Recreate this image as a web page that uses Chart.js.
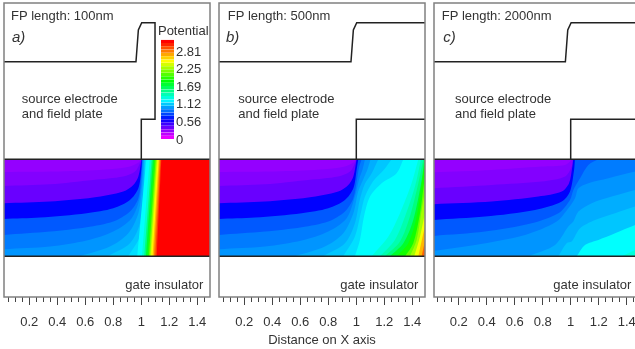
<!DOCTYPE html>
<html>
<head>
<meta charset="utf-8">
<title>Potential contours</title>
<script src="https://cdn.jsdelivr.net/npm/chart.js@4/dist/chart.umd.min.js"></script>
<style>
  html, body { margin: 0; background: #fff; overflow: hidden; width: 635px; height: 349px; }
  canvas { position: absolute; top: 0; }
</style>
</head>
<body>
<canvas id="panelA" width="214" height="349" style="left:0"></canvas>
<canvas id="panelB" width="214" height="349" style="left:215px"></canvas>
<canvas id="panelC" width="214" height="349" style="left:430px"></canvas>
<canvas id="colorKey" width="60" height="120" style="left:150px;top:30px"></canvas>
<script>
// x is distance in um, y is depth below the top of the layer
const xMajorTicks = [0.2, 0.4, 0.6, 0.8, 1, 1.2, 1.4];
const xMinorTicks = [0.05, 0.1, 0.15, 0.2, 0.25, 0.3, 0.35, 0.4, 0.45, 0.5, 0.55, 0.6, 0.65, 0.7, 0.75,
  0.8, 0.85, 0.9, 0.95, 1, 1.05, 1.1, 1.15, 1.2, 1.25, 1.3, 1.35, 1.4, 1.45];
const keyTicks = [0, 0.5625, 1.125, 1.6875, 2.25, 2.8125];
const keyLabels = ["0", "0.56", "1.12", "1.69", "2.25", "2.81"];
const keyBands = [0.05, 0.155, 0.26, 0.366, 0.47, 0.577, 0.683, 0.788, 0.894, 1.0, 1.105, 1.21, 1.316, 1.42, 1.527,
  1.633, 1.738, 1.844, 1.95, 2.055, 2.16, 2.266, 2.37, 2.477, 2.583, 2.688, 2.794, 2.9, 3.005, 3.11];

// [potential, line of equal potential]
const contoursA = [
  [0.26, [[0.015, 0], [1.5, 0]]],
  [0.30, [[0.015, 12.7], [0.467, 12], [0.776, 10], [0.919, 7.3], [0.979, 3.3], [1.0, 0]]],
  [0.364, [[0.015, 26.7], [0.348, 25], [0.657, 20.7], [0.871, 17.3], [0.955, 12.3], [0.99, 4], [1.001, 0]]],
  [0.62, [[0.015, 44], [0.348, 42.3], [0.657, 38.3], [0.871, 32.3], [0.943, 25.7], [0.979, 17.3], [1.002, 0]]],
  [0.835, [[0.015, 59.7], [0.276, 58.3], [0.61, 54], [0.8, 49], [0.919, 40.7], [0.979, 29], [1.0, 10.7], [1.005, 0]]],
  [0.92, [[0.015, 75.7], [0.348, 72.3], [0.61, 68], [0.8, 62.3], [0.919, 52.3], [0.979, 39], [1.0, 17.3], [1.008, 0]]],
  [0.98, [[0.015, 90], [0.348, 87.3], [0.61, 81.3], [0.8, 72.3], [0.931, 59], [0.99, 37.3], [1.012, 0]]],
  [1.04, [[0.562, 97], [0.776, 87.3], [0.907, 74], [0.979, 54], [1.008, 24], [1.017, 0]]],
  [1.10, [[0.762, 97], [0.919, 84], [0.99, 64], [1.014, 30.7], [1.022, 0]]],
  [1.16, [[0.907, 97], [0.99, 77.3], [1.018, 50.7], [1.028, 0]]],
  [1.24, [[0.971, 97], [1.036, 0]]],
  [1.35, [[1.005, 97], [1.06, 0]]],
  [1.55, [[1.021, 97], [1.074, 0]]],
  [1.75, [[1.033, 97], [1.083, 0]]],
  [1.95, [[1.045, 97], [1.093, 0]]],
  [2.15, [[1.055, 97], [1.102, 0]]],
  [2.35, [[1.064, 97], [1.11, 0]]],
  [2.5, [[1.071, 97], [1.117, 0]]],
  [2.65, [[1.081, 97], [1.124, 0]]],
  [2.8, [[1.09, 97], [1.131, 0]]],
  [2.95, [[1.1, 97], [1.138, 0]]],
  [3.09, [[1.11, 97], [1.143, 0]]]
];

const contoursB = [
  [0.26, [[0.015, 0], [1.5, 0]]],
  [0.30, [[0.015, 12.7], [0.467, 12], [0.776, 10], [0.919, 7.3], [0.979, 3.3], [1.0, 0]]],
  [0.364, [[0.015, 26.7], [0.348, 25], [0.657, 20.7], [0.871, 17.3], [0.955, 12.3], [0.99, 4], [1.001, 0]]],
  [0.62, [[0.015, 44], [0.348, 42.3], [0.657, 38.3], [0.871, 32.3], [0.943, 25.7], [0.979, 17.3], [1.002, 0]]],
  [0.835, [[0.015, 59.7], [0.276, 58.3], [0.61, 54], [0.8, 49], [0.919, 40.7], [0.979, 29], [1.002, 10.7], [1.014, 0]]],
  [0.92, [[0.015, 75.7], [0.348, 72.3], [0.61, 68], [0.8, 62.3], [0.919, 52.3], [0.979, 39], [1.005, 20], [1.02, 8], [1.038, 0]]],
  [0.98, [[0.015, 90], [0.348, 87.3], [0.61, 81.3], [0.8, 72.3], [0.931, 59], [0.99, 37.3], [1.02, 20], [1.045, 10], [1.062, 0]]],
  [1.04, [[0.562, 97], [0.776, 87.3], [0.907, 74], [0.979, 54], [1.014, 32], [1.05, 20], [1.08, 10], [1.102, 0]]],
  [1.10, [[0.762, 97], [0.919, 84], [0.99, 64], [1.026, 40], [1.06, 25], [1.11, 14], [1.157, 0]]],
  [1.16, [[0.907, 97], [0.99, 77.3], [1.03, 55], [1.06, 38], [1.12, 22], [1.2, 10], [1.252, 0]]],
  [1.24, [[0.99, 97], [1.026, 80.7], [1.055, 57.3], [1.098, 37.3], [1.181, 24], [1.288, 14], [1.336, 0]]],
  [1.33, [[1.11, 97], [1.229, 77.3], [1.312, 54], [1.395, 24], [1.443, 0]]],
  [1.43, [[1.169, 97], [1.276, 80.7], [1.348, 57.3], [1.419, 27.3], [1.462, 0]]],
  [1.55, [[1.205, 97], [1.312, 82.3], [1.383, 57.3], [1.443, 24], [1.479, 0]]],
  [1.75, [[1.24, 97], [1.336, 84], [1.407, 60.7], [1.467, 20.7], [1.486, 0]]],
  [1.9, [[1.288, 97], [1.371, 84], [1.431, 57.3], [1.481, 10.7], [1.5, 0]]],
  [2.1, [[1.348, 97], [1.407, 84], [1.455, 54], [1.49, 17.3], [1.5, 10]]],
  [2.25, [[1.383, 97], [1.431, 80.7], [1.471, 47.3], [1.5, 25]]],
  [2.45, [[1.414, 97], [1.455, 77.3], [1.5, 47]]],
  [2.65, [[1.443, 97], [1.479, 74], [1.5, 62]]],
  [2.85, [[1.467, 97], [1.5, 75]]]
];

const contoursC = [
  [0.26, [[0.015, 0], [1.5, 0]]],
  [0.30, [[0.015, 13], [0.436, 10.7], [0.793, 7.3], [0.96, 5.7], [1.012, 0]]],
  [0.364, [[0.015, 29], [0.436, 25.7], [0.793, 22.3], [0.96, 17.3], [1.007, 7.3], [1.015, 0]]],
  [0.62, [[0.015, 45], [0.436, 42.3], [0.769, 37.3], [0.936, 32.3], [0.988, 24], [1.012, 7.3], [1.018, 0]]],
  [0.835, [[0.015, 60.7], [0.388, 57.3], [0.745, 50.7], [0.936, 42.3], [0.995, 32.3], [1.024, 10.7], [1.03, 0]]],
  [0.92, [[0.015, 76.7], [0.388, 72.3], [0.721, 64], [0.912, 54], [0.995, 40.7], [1.019, 30.7], [1.067, 19], [1.126, 5.7], [1.198, 0]]],
  [0.98, [[0.015, 91.7], [0.317, 85.7], [0.674, 75.7], [0.9, 62.3], [0.983, 49], [1.031, 39], [1.055, 29], [1.126, 24], [1.269, 19], [1.46, 12.3], [1.5, 11]]],
  [1.04, [[0.698, 97], [0.888, 85.7], [0.983, 67.3], [1.019, 62.3], [1.055, 52.3], [1.15, 44], [1.293, 37.3], [1.46, 30.7], [1.5, 29]]],
  [1.10, [[0.912, 97], [0.971, 84], [1.007, 82.3], [1.067, 69], [1.174, 60.7], [1.317, 54], [1.46, 47.3], [1.5, 46]]],
  [1.24, [[1.043, 97], [1.102, 85.7], [1.198, 80.7], [1.317, 74], [1.46, 65.7], [1.5, 64]]],
  [1.33, [[1.364, 97], [1.46, 90.7], [1.5, 88]]]
];

// edge of the source electrode and field plate
const stepLine = [[0.015, -97.6], [0.962, -97.6], [0.979, -129.3], [1.003, -136.6]];
const outlineA = [stepLine.concat([[1.098, -136.6], [1.098, -40], [1, -40], [1, 0]])];
const outlineB = [stepLine.concat([[1.5, -136.6]]), [[1, 0], [1, -40], [1.5, -40]]];
const layerEdges = [[[0.015, 0], [1.5, 0]], [[0.015, 97], [1.5, 97]]];

const textA = [
  { text: "FP length: 100nm", x: 0.0693, y: -142.8 },
  { text: "a)", x: 0.0764, y: -121.3, italic: true },
  { text: "source electrode", x: 0.1457, y: -59.6 },
  { text: "and field plate", x: 0.1457, y: -44.8 },
  { text: "gate insulator", x: 1.443, y: 125.7, right: true },
  { text: "Potential", x: 1.119, y: -128 }
];
const textB = [
  { text: "FP length: 500nm", x: 0.0814, y: -142.8 },
  { text: "b)", x: 0.0693, y: -121.3, italic: true },
  { text: "source electrode", x: 0.157, y: -59.6 },
  { text: "and field plate", x: 0.157, y: -44.8 },
  { text: "gate insulator", x: 1.443, y: 125.7, right: true }
];
const textC = [
  { text: "FP length: 2000nm", x: 0.0786, y: -142.8 },
  { text: "c)", x: 0.09, y: -121.3, italic: true },
  { text: "source electrode", x: 0.1736, y: -59.6 },
  { text: "and field plate", x: 0.1736, y: -44.8 },
  { text: "gate insulator", x: 1.4336, y: 125.7, right: true }
];

const FONT = "'Liberation Sans', Arial, sans-serif";
const TEXT_COLOR = "#333";

function potentialColor(v) {
  return "hsl(" + Math.max(0, 300 - 97 * v) + ",100%,50%)";
}

// close a contour along the layer edge so everything above that potential is covered
function closedShape(line) {
  const pts = [line[0]].concat(line);
  const first = line[0];
  const last = line[line.length - 1];
  pts.push(last);
  if (first[1] === 0 && last[1] === 0) {
    pts.push([1.5, 97], [1.5, 97], [0.015, 97], [0.015, 97]);
  } else {
    if (last[1] === 0 && last[0] < 1.5) pts.push([1.5, 0], [1.5, 0]);
    pts.push([1.5, 97], [1.5, 97]);
    if (first[0] <= 0.015) pts.push([0.015, 97], [0.015, 97]);
  }
  pts.push(first);
  return pts.map(function (p) { return { x: p[0], y: p[1] }; });
}

const panelDecor = {
  id: "panelDecor",
  afterDraw(chart, args, opts) {
    const { ctx, chartArea, scales } = chart;
    ctx.save();
    ctx.strokeStyle = "#808080";
    ctx.lineWidth = 1.5;
    ctx.strokeRect(chartArea.left, chartArea.top, chartArea.right - chartArea.left, chartArea.bottom - chartArea.top);
    ctx.fillStyle = TEXT_COLOR;
    ctx.textBaseline = "middle";
    opts.labels.forEach(function (l) {
      ctx.font = (l.italic ? "italic 15px " : "13px ") + FONT;
      ctx.textAlign = l.right ? "right" : "left";
      ctx.fillText(l.text, scales.x.getPixelForValue(l.x), scales.y.getPixelForValue(l.y));
    });
    ctx.restore();
  }
};

function linePoints(line) {
  return line.map(function (p) { return { x: p[0], y: p[1] }; });
}

function makePanel(id, contours, outline, labels, xMin, xMax, axisTitle) {
  const fills = contours.map(function (c, i) {
    return {
      data: closedShape(c[1]),
      showLine: true,
      fill: "shape",
      backgroundColor: potentialColor(c[0]),
      borderWidth: 0,
      pointRadius: 0,
      tension: 0.3,
      order: 100 - i
    };
  });
  const lines = layerEdges.concat(outline).map(function (l) {
    return {
      data: linePoints(l),
      showLine: true,
      fill: false,
      borderColor: "#222",
      borderWidth: 1.5,
      pointRadius: 0,
      order: 0
    };
  });
  new Chart(document.getElementById(id), {
    type: "scatter",
    data: { datasets: fills.concat(lines) },
    plugins: [panelDecor],
    options: {
      responsive: false,
      animation: false,
      events: [],
      layout: { padding: { left: 4, right: 4, top: 3, bottom: 0 } },
      plugins: {
        legend: { display: false },
        tooltip: { enabled: false },
        panelDecor: { labels: labels }
      },
      scales: {
        x2: {
          type: "linear",
          position: "bottom",
          weight: 0,
          min: xMin,
          max: xMax,
          afterBuildTicks(axis) { axis.ticks = xMinorTicks.map(function (v) { return { value: v }; }); },
          afterFit(axis) { axis.height = 0; axis.paddingLeft = 0; axis.paddingRight = 0; },
          grid: { drawOnChartArea: false, tickLength: 5, color: "#444" },
          border: { display: false },
          ticks: { display: false, autoSkip: false }
        },
        x: {
          type: "linear",
          position: "bottom",
          weight: 1,
          min: xMin,
          max: xMax,
          afterBuildTicks(axis) { axis.ticks = xMajorTicks.map(function (v) { return { value: v }; }); },
          // tick padding would otherwise narrow the frame
          afterFit(axis) { axis.height = 52; axis.paddingLeft = 0; axis.paddingRight = 0; },
          grid: { drawOnChartArea: false, tickLength: 8, color: "#444" },
          border: { display: false },
          ticks: {
            autoSkip: false,
            maxRotation: 0,
            padding: 10,
            color: TEXT_COLOR,
            font: { family: FONT, size: 13 },
            callback(v) { return String(v); }
          },
          title: {
            display: !!axisTitle,
            text: axisTitle,
            color: TEXT_COLOR,
            font: { family: FONT, size: 13 },
            padding: { top: 0, bottom: 1 }
          }
        },
        y: { display: false, reverse: true, min: -156.3, max: 137.7 }
      }
    }
  });
}

makePanel("panelA", contoursA, outlineA, textA, 0.0193, 1.4907, "");
makePanel("panelB", contoursB, outlineB, textB, 0.0193, 1.4907, "Distance on X axis");
makePanel("panelC", contoursC, outlineB, textC, 0.0236, 1.495, "");

new Chart(document.getElementById("colorKey"), {
  type: "bar",
  data: {
    labels: [""],
    datasets: keyBands.map(function (v) {
      return { data: [[v, v + 0.08]], backgroundColor: potentialColor(v), barPercentage: 1, categoryPercentage: 1 };
    })
  },
  options: {
    responsive: false,
    animation: false,
    events: [],
    datasets: { bar: { grouped: false } },
    layout: { padding: { left: 11, right: 0, top: 8.6, bottom: 6.7 } },
    plugins: { legend: { display: false }, tooltip: { enabled: false } },
    scales: {
      x: { display: false },
      y: {
        position: "right",
        min: 0,
        max: 3.2,
        afterBuildTicks(axis) { axis.ticks = keyTicks.map(function (v) { return { value: v }; }); },
        afterFit(axis) { axis.width = 36; },
        grid: { display: false, drawTicks: false },
        border: { display: false },
        ticks: {
          autoSkip: false,
          padding: 2,
          color: TEXT_COLOR,
          font: { family: FONT, size: 13 },
          callback(v, i) { return keyLabels[i]; }
        }
      }
    }
  }
});
</script>
</body>
</html>
